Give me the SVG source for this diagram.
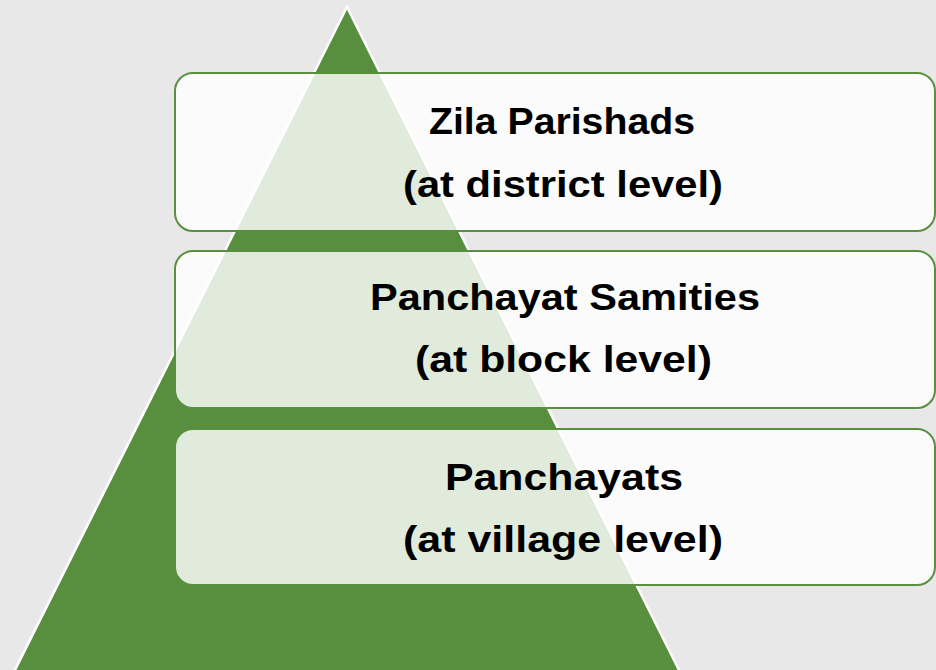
<svg xmlns="http://www.w3.org/2000/svg" width="936" height="670" viewBox="0 0 936 670">
<style>
.box{fill:#ffffff;fill-opacity:0.82;stroke:#5a8f3f;stroke-width:2}
.t{font-family:"Liberation Sans","DejaVu Sans",Arial,sans-serif;font-weight:bold;font-size:36px;fill:#000;text-anchor:middle}
</style>
<rect x="0" y="0" width="936" height="670" fill="#e8e8e8"/>
<g id="pyramid">
<polygon points="347,7 13,674 681,674" fill="#578f3f" stroke="#ffffff" stroke-width="2.5" stroke-linejoin="miter"/>
</g>
<g id="connectors"></g>
<g id="zila">
<rect class="box" x="175" y="73" width="760" height="158" rx="18" ry="18"/>
<text class="t" x="562" y="134" textLength="266" lengthAdjust="spacingAndGlyphs">Zila Parishads</text>
<text class="t" x="563" y="197" textLength="320" lengthAdjust="spacingAndGlyphs">(at district level)</text>
</g>
<g id="samities">
<rect class="box" x="175" y="251" width="760" height="157" rx="18" ry="18"/>
<text class="t" x="565" y="310" textLength="390" lengthAdjust="spacingAndGlyphs">Panchayat Samities</text>
<text class="t" x="563.5" y="372" textLength="297" lengthAdjust="spacingAndGlyphs">(at block level)</text>
</g>
<g id="panchayats">
<rect class="box" x="175" y="429" width="760" height="156" rx="18" ry="18"/>
<text class="t" x="564" y="490" textLength="238" lengthAdjust="spacingAndGlyphs">Panchayats</text>
<text class="t" x="563" y="552" textLength="320" lengthAdjust="spacingAndGlyphs">(at village level)</text>
</g>
</svg>
